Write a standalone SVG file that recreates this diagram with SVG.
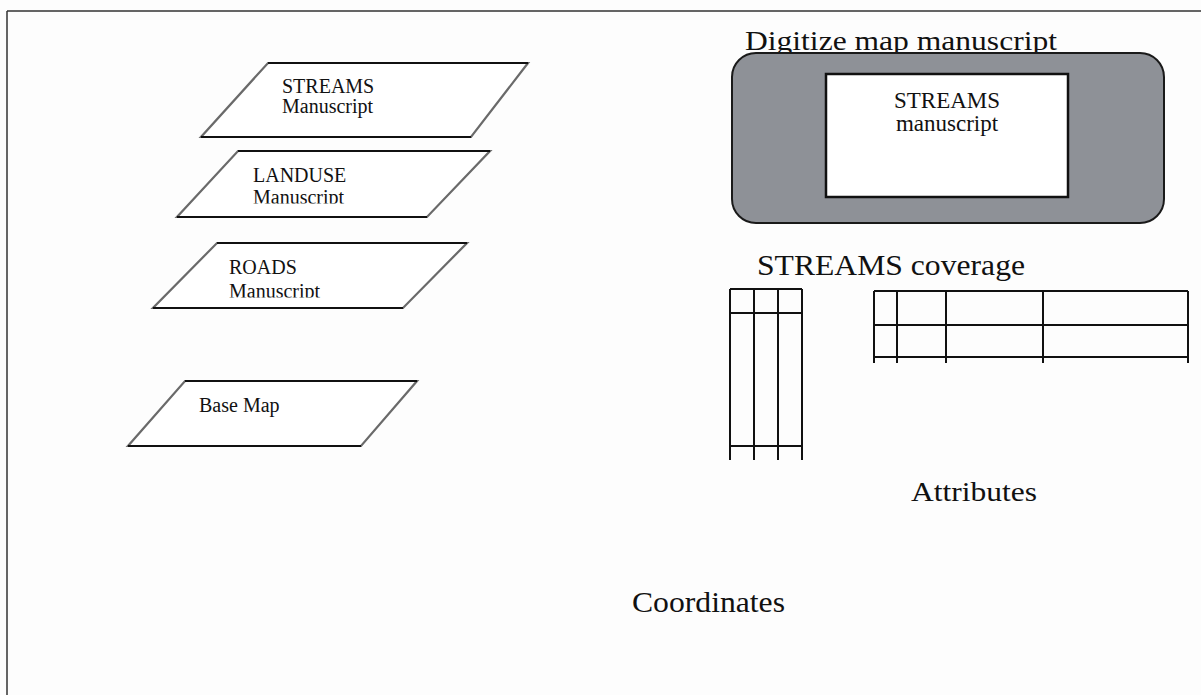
<svg xmlns="http://www.w3.org/2000/svg" width="1201" height="695" viewBox="0 0 1201 695">
  <style>
    .lbl { font-family: "Liberation Serif", "Times New Roman", serif; fill: #111; }
    .sheet { fill: #fff; stroke: #6a6a6a; stroke-width: 2.2; stroke-linejoin: miter; }
    .edge { stroke: #111; stroke-width: 2; fill: none; }
    .grid { stroke: #111; stroke-width: 2; fill: none; }
    .frame { stroke: #333; stroke-width: 1.5; fill: none; }
  </style>
  <defs>
    <clipPath id="clipLanduse"><rect x="150" y="140" width="360" height="63.5"/></clipPath>
    <clipPath id="clipRoads"><rect x="150" y="230" width="360" height="67.5"/></clipPath>
  </defs>

  <rect x="0" y="0" width="1201" height="695" fill="#fdfdfd"/>

  <!-- page frame -->
  <g id="frame">
    <path class="frame" d="M7,11 H1201 M7,11 V695"/>
  </g>

  <!-- map manuscript sheets -->
  <g id="sheet-streams">
    <polygon class="sheet" points="268,63 528,63 471,137 201,137"/>
    <path class="edge" d="M268,63 H528 M201,137 H471"/>
    <text class="lbl" x="282" y="93" font-size="20">STREAMS</text>
    <text class="lbl" x="282" y="113" font-size="20">Manuscript</text>
  </g>

  <g id="sheet-landuse">
    <polygon class="sheet" points="238,151 490,151 427,217 177,217"/>
    <path class="edge" d="M238,151 H490 M177,217 H427"/>
    <text class="lbl" x="253" y="182" font-size="20">LANDUSE</text>
    <text class="lbl" x="253" y="204" font-size="20" clip-path="url(#clipLanduse)">Manuscript</text>
  </g>

  <g id="sheet-roads">
    <polygon class="sheet" points="217,243 467,243 403,308 153,308"/>
    <path class="edge" d="M217,243 H467 M153,308 H403"/>
    <text class="lbl" x="229" y="274" font-size="20">ROADS</text>
    <text class="lbl" x="229" y="298" font-size="20" clip-path="url(#clipRoads)">Manuscript</text>
  </g>

  <g id="sheet-basemap">
    <polygon class="sheet" points="185,381 417,381 361,446 128,446"/>
    <path class="edge" d="M185,381 H417 M128,446 H361"/>
    <text class="lbl" x="199" y="412" font-size="20">Base Map</text>
  </g>

  <!-- digitizing tablet -->
  <g id="digitize">
    <text class="lbl" x="745" y="50" font-size="28" textLength="312" lengthAdjust="spacingAndGlyphs">Digitize map manuscript</text>
    <rect x="732" y="53" width="432" height="170" rx="24" fill="#8e9197" stroke="#1a1a1a" stroke-width="2"/>
    <rect x="826" y="74" width="242" height="123" fill="#fff" stroke="#111" stroke-width="2.5"/>
    <text class="lbl" x="947" y="108" font-size="23" text-anchor="middle">STREAMS</text>
    <text class="lbl" x="947" y="131" font-size="23" text-anchor="middle">manuscript</text>
  </g>

  <!-- coverage tables -->
  <g id="coverage">
    <text class="lbl" x="757" y="275" font-size="29" textLength="268" lengthAdjust="spacingAndGlyphs">STREAMS coverage</text>
  </g>

  <g id="coordinates-table">
    <path class="grid" d="M730,289 H802 M730,313 H802 M730,446 H802 M730,289 V460 M754,289 V460 M778,289 V460 M802,289 V460"/>
  </g>

  <g id="attributes-table">
    <path class="grid" d="M874,291 H1188 M874,325 H1188 M874,357 H1188 M874,291 V363 M897,291 V363 M946,291 V363 M1043,291 V363 M1188,291 V363"/>
  </g>

  <g id="attributes-label">
    <text class="lbl" x="911" y="501" font-size="28" textLength="126" lengthAdjust="spacingAndGlyphs">Attributes</text>
  </g>

  <g id="coordinates-label">
    <text class="lbl" x="632" y="612" font-size="30" textLength="153" lengthAdjust="spacingAndGlyphs">Coordinates</text>
  </g>

  <g id="connectors"></g>
</svg>
